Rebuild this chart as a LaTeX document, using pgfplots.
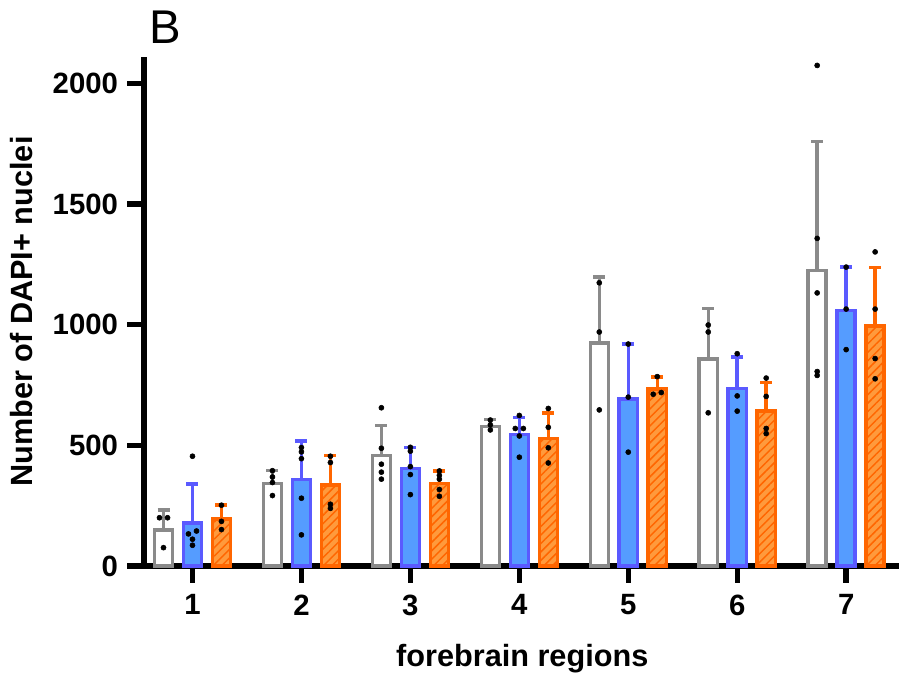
\documentclass[border=0pt]{standalone}
\usepackage{fontspec}
\setmainfont{Liberation Sans}
\usepackage{pgfplots}
\pgfplotsset{compat=1.18}
\usetikzlibrary{patterns.meta}
\definecolor{grayc}{HTML}{8A8A8A}
\definecolor{blueD}{HTML}{5A5AFF}
\definecolor{blueF}{HTML}{559CFF}
\definecolor{orD}{HTML}{FF6600}
\definecolor{orF}{HTML}{FF9A3C}
\pgfplotstableread{
x y e
0.734 150 82
1.734 342 53
2.734 458 124
3.734 578 29
4.734 924 274
5.734 859 209
6.734 1225 534
}\graydata
\pgfplotstableread{
x y e
1 178 161
2 358 161
3 404 88
4 545 70
5 692 228
6 736 130
7 1059 180
}\bluedata
\pgfplotstableread{
x y e
1.266 195 57
2.266 336 122
3.266 342 52
4.266 528 106
5.266 733 50
6.266 642 119
7.266 995 242
}\orangedata
\begin{document}
\begin{tikzpicture}
\path[use as bounding box] (0,0) rectangle (675pt,507.75pt);
\begin{axis}[
  at={(108pt,83.25pt)}, anchor=south west,
  scale only axis, width=566.25pt, height=381.75pt,
  xmin=0.555, xmax=7.485, ymin=0, ymax=2110,
  axis x line=bottom, axis y line=left,
  axis line style={line width=4pt, -, black},
  xtick={1,...,7}, ytick={0,500,1000,1500,2000},
  tick align=outside, major tick length=12.5pt,
  tick style={line width=4pt, black},
  /pgf/number format/assume math mode=true,
  /pgf/number format/1000 sep={},
  tick label style={font=\fontsize{22}{25}\selectfont\bfseries},
  xticklabel style={yshift=-5.5pt},
  yticklabel style={xshift=-3.5pt},
  xlabel={forebrain regions},
  ylabel={Number of DAPI+ nuclei},
  every axis x label/.style={at={(axis description cs:0.501,-0.198)}, anchor=base, font=\fontsize{23}{27}\selectfont\bfseries},
  every axis y label/.style={at={(axis description cs:-0.1625,0.5)}, anchor=center, rotate=90, font=\fontsize{23}{27}\selectfont\bfseries},
  clip=false,
]
% bars (bar positions given directly in x)
\addplot[ybar, bar width=0.166, bar shift=0, draw=grayc, fill=white, line width=2.6pt]
  table[x=x, y=y] {\graydata};
\addplot[ybar, bar width=0.166, bar shift=0, draw=blueD, fill=blueF, line width=2.6pt]
  table[x=x, y=y] {\bluedata};
\addplot[ybar, bar width=0.166, bar shift=0, draw=orD, fill=orF, line width=2.6pt,
  postaction={pattern={Lines[angle=45,distance=4.5pt,line width=1.1pt]}, pattern color=orD}]
  table[x=x, y=y] {\orangedata};
% error bars (upper only)
\addplot[draw=none, forget plot,
  error bars/.cd, y dir=plus, y explicit, error mark=-,
  error bar style={line width=2.6pt, draw=grayc, solid},
  error mark options={rotate=90, line width=2.6pt, mark size=4.5pt, draw=grayc, solid}]
  table[x=x, y=y, y error=e] {\graydata};
\addplot[draw=none, forget plot,
  error bars/.cd, y dir=plus, y explicit, error mark=-,
  error bar style={line width=2.6pt, draw=blueD, solid},
  error mark options={rotate=90, line width=2.6pt, mark size=4.5pt, draw=blueD, solid}]
  table[x=x, y=y, y error=e] {\bluedata};
\addplot[draw=none, forget plot,
  error bars/.cd, y dir=plus, y explicit, error mark=-,
  error bar style={line width=2.6pt, draw=orD, solid},
  error mark options={rotate=90, line width=2.6pt, mark size=4.5pt, draw=orD, solid}]
  table[x=x, y=y, y error=e] {\orangedata};
% individual points
\addplot[only marks, mark=*, mark size=1.9pt, black] table {
x y
0.697 200
0.771 200
0.734 76
1.734 395
1.734 369
1.734 346
1.734 292
2.734 656
2.734 488
2.734 422
2.734 389
2.734 360
3.734 605
3.734 585
3.734 564
4.734 1174
4.734 970
4.734 647
5.734 999
5.734 970
5.734 635
6.734 2075
6.734 1358
6.734 1132
6.734 806
6.734 790
1 455
0.963 133
1.037 145
1 111
1 86
2 491
2 473
2 445
2 281
2 129
3 492
3 476
3 412
3 379
3 296
4 624
3.963 570
4.037 570
4 539
4 451
5 920
5 700
5 472
6 880
6 705
6 642
7 1239
7 1065
7 897
1.266 252
1.266 185
1.266 151
2.266 455
2.266 429
2.266 256
2.266 239
3.266 394
3.266 376
3.266 360
3.266 317
3.266 289
4.266 653
4.266 575
4.266 490
4.266 427
5.266 785
5.229 712
5.303 719
6.266 779
6.266 703
6.266 570
6.266 549
7.266 1302
7.266 1065
7.266 860
7.266 776
};
\end{axis}
\node[anchor=base west, inner sep=0pt, font=\fontsize{35.5}{40}\selectfont] at (112pt,474.75pt) {B};
\end{tikzpicture}
\end{document}
